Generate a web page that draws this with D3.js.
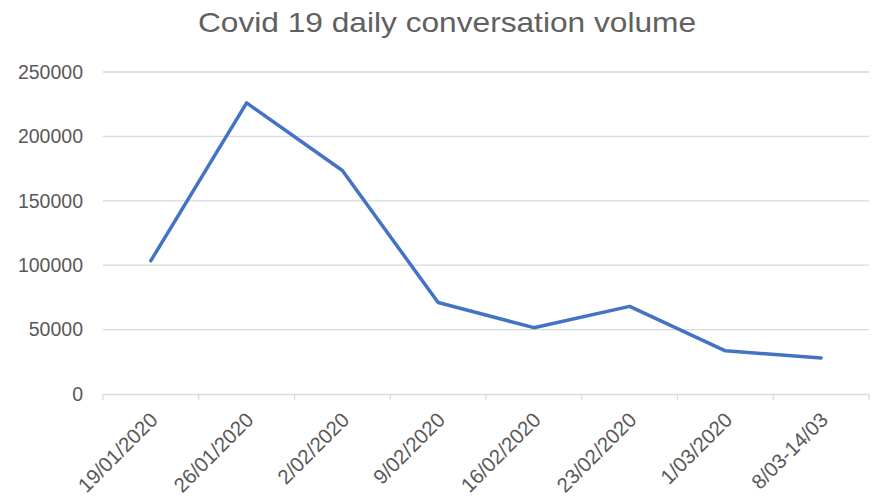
<!DOCTYPE html>
<html>
<head>
<meta charset="utf-8">
<script src="https://cdn.jsdelivr.net/npm/d3@7"></script>
<style>
  body { margin: 0; background: #fff; }
  text { font-family: "Liberation Sans", Arial, sans-serif; fill: #595959; }
</style>
</head>
<body>
<div class="chart"></div>
<script>
// weekly buckets and conversation counts
const categories = ["19/01/2020", "26/01/2020", "2/02/2020", "9/02/2020",
                    "16/02/2020", "23/02/2020", "1/03/2020", "8/03-14/03"];
const volumes = [103500, 226000, 173500, 71000, 51500, 68000, 33500, 28000];
const yTicks = [0, 50000, 100000, 150000, 200000, 250000];
const title = "Covid 19 daily conversation volume";

let width = 872, height = 504;
let plotLeft = 103, plotRight = 869, plotTop = 72, plotBottom = 394;

let svg = d3.select(".chart")
  .append("svg")
  .attr("width", width)
  .attr("height", height);

let x = d3.scaleBand()
  .domain(categories)
  .range([plotLeft, plotRight])
  .padding(0);

let y = d3.scaleLinear()
  .domain([0, 250000])
  .range([plotBottom, plotTop]);

svg.append("text")
  .attr("x", 447)
  .attr("y", 32)
  .attr("text-anchor", "middle")
  .attr("textLength", 498)
  .attr("lengthAdjust", "spacingAndGlyphs")
  .style("font-size", "28px")
  .style("fill", "#606060")
  .text(title);

// horizontal gridlines
svg.selectAll(".grid")
  .data(yTicks.filter(d => d > 0))
  .enter()
  .append("line")
  .attr("x1", plotLeft)
  .attr("x2", plotRight)
  .attr("y1", d => y(d))
  .attr("y2", d => y(d))
  .attr("stroke", "#d9d9d9")
  .attr("stroke-width", 1.3);

svg.selectAll(".ylab")
  .data(yTicks)
  .enter()
  .append("text")
  .attr("x", 83)
  .attr("y", d => y(d))
  .attr("dy", "0.35em")
  .attr("text-anchor", "end")
  .style("font-size", "19.5px")
  .text(d => d);

// category axis: baseline plus ticks on band edges
let xAxis = svg.append("g")
  .attr("transform", "translate(0," + plotBottom + ")")
  .call(d3.axisBottom(x).tickSize(0).tickFormat(""));
xAxis.select(".domain").attr("stroke", "#d9d9d9").attr("stroke-width", 1.3);

let edges = categories.map(c => x(c)).concat([x.range()[1]]);
svg.selectAll(".xtick")
  .data(edges)
  .enter()
  .append("line")
  .attr("x1", d => d)
  .attr("x2", d => d)
  .attr("y1", plotBottom)
  .attr("y2", plotBottom + 6)
  .attr("stroke", "#d9d9d9")
  .attr("stroke-width", 1.3);

svg.selectAll(".xlab")
  .data(categories)
  .enter()
  .append("text")
  .attr("transform", d => "translate(" + (x(d) + x.bandwidth() / 2 + 3) + "," + (plotBottom + 22) + ") rotate(-45)")
  .attr("text-anchor", "end")
  .attr("dy", "0.35em")
  .style("font-size", "20.5px")
  .text(d => d);

let line = d3.line()
  .x((d, i) => x(categories[i]) + x.bandwidth() / 2)
  .y(d => y(d));

svg.append("path")
  .datum(volumes)
  .attr("d", line)
  .attr("fill", "none")
  .attr("stroke", "#4472c4")
  .attr("stroke-width", 3.5)
  .attr("stroke-linejoin", "round")
  .attr("stroke-linecap", "round");
</script>
</body>
</html>
